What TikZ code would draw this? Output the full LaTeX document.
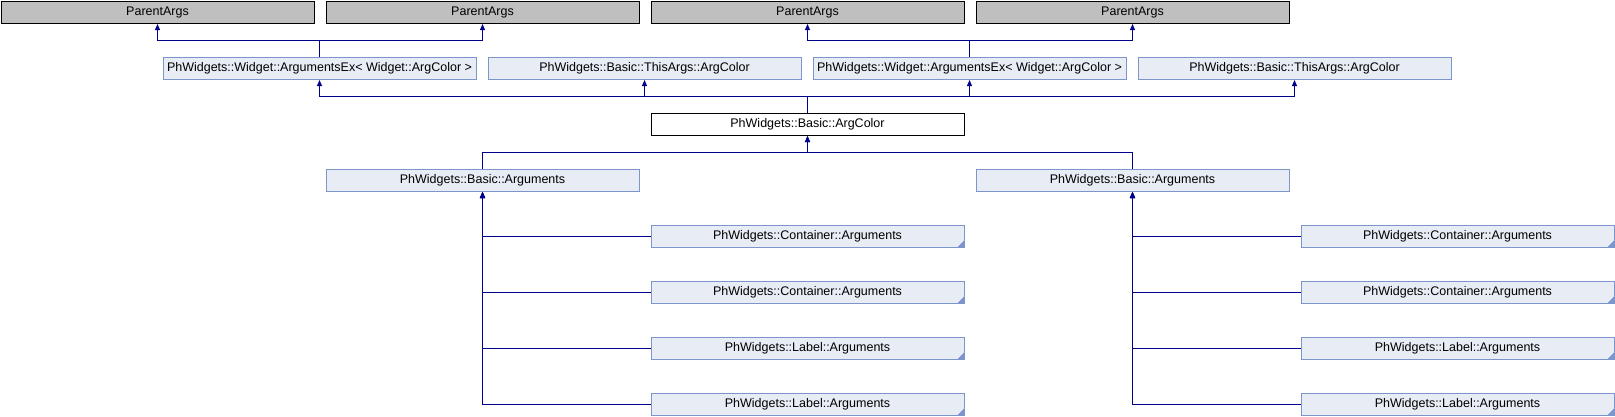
\documentclass[tikz,border=0pt]{standalone}
\usepackage{fontspec}
\setmainfont{Liberation Sans}
\usetikzlibrary{arrows.meta}
\definecolor{gfill}{RGB}{191,191,191}
\definecolor{bfill}{RGB}{232,236,245}
\definecolor{bline}{RGB}{124,149,202}
\definecolor{eline}{RGB}{0,0,139}
\tikzset{
  nbase/.style={anchor=north west, minimum width=313pt, minimum height=22.5pt, inner sep=0pt, line width=1pt, font=\fontsize{12.5}{14}\selectfont},
  gray/.style={nbase, draw=black, fill=gfill},
  blue/.style={nbase, draw=bline, fill=bfill},
  white/.style={nbase, draw=black, fill=white},
  trunc/.style={blue, path picture={\fill[bline] (path picture bounding box.south east) -- ++(-7pt,0pt) -- ++(7pt,7pt) -- cycle;}},
  edge/.style={draw=eline, line width=1pt, -{Triangle[length=6pt,width=5pt]}}
}
\begin{document}
\begin{tikzpicture}[x=1pt,y=-1pt]
\useasboundingbox (0,0) rectangle (1615,416);
% row 1
\node[gray] (p1) at (0.5,0.5) {ParentArgs};
\node[gray] (p2) at (325.5,0.5) {ParentArgs};
\node[gray] (p3) at (650.5,0.5) {ParentArgs};
\node[gray] (p4) at (975.5,0.5) {ParentArgs};
% row 2
\node[blue] (a1) at (162.5,56.5) {PhWidgets::Widget::ArgumentsEx< Widget::ArgColor >};
\node[blue] (a2) at (487.5,56.5) {PhWidgets::Basic::ThisArgs::ArgColor};
\node[blue] (a3) at (812.5,56.5) {PhWidgets::Widget::ArgumentsEx< Widget::ArgColor >};
\node[blue] (a4) at (1137.5,56.5) {PhWidgets::Basic::ThisArgs::ArgColor};
% row 3
\node[white] (c) at (650.5,112.5) {PhWidgets::Basic::ArgColor};
% row 4
\node[blue] (b1) at (325.5,168.5) {PhWidgets::Basic::Arguments};
\node[blue] (b2) at (975.5,168.5) {PhWidgets::Basic::Arguments};
% children
\node[trunc] (l1) at (650.5,224.5) {PhWidgets::Container::Arguments};
\node[trunc] (l2) at (650.5,280.5) {PhWidgets::Container::Arguments};
\node[trunc] (l3) at (650.5,336.5) {PhWidgets::Label::Arguments};
\node[trunc] (l4) at (650.5,392.5) {PhWidgets::Label::Arguments};
\node[trunc] (r1) at (1300.5,224.5) {PhWidgets::Container::Arguments};
\node[trunc] (r2) at (1300.5,280.5) {PhWidgets::Container::Arguments};
\node[trunc] (r3) at (1300.5,336.5) {PhWidgets::Label::Arguments};
\node[trunc] (r4) at (1300.5,392.5) {PhWidgets::Label::Arguments};
% edges row2 -> row1
\draw[edge] (a1.north) -- (a1.north |- 0,40.5) -| (p1.south);
\draw[edge] (a1.north) -- (a1.north |- 0,40.5) -| (p2.south);
\draw[edge] (a3.north) -- (a3.north |- 0,40.5) -| (p3.south);
\draw[edge] (a3.north) -- (a3.north |- 0,40.5) -| (p4.south);
% ArgColor -> row2
\foreach \t in {a1,a2,a3,a4}
  \draw[edge] (c.north) -- (c.north |- 0,96.5) -| (\t.south);
% Basic::Arguments -> ArgColor
\draw[edge] (b1.north) -- (b1.north |- 0,152.5) -| (c.south);
\draw[edge] (b2.north) -- (b2.north |- 0,152.5) -| (c.south);
% children -> Basic::Arguments
\foreach \t in {l1,l2,l3,l4}
  \draw[edge] (\t.west) -| (b1.south);
\foreach \t in {r1,r2,r3,r4}
  \draw[edge] (\t.west) -| (b2.south);
\end{tikzpicture}
\end{document}
